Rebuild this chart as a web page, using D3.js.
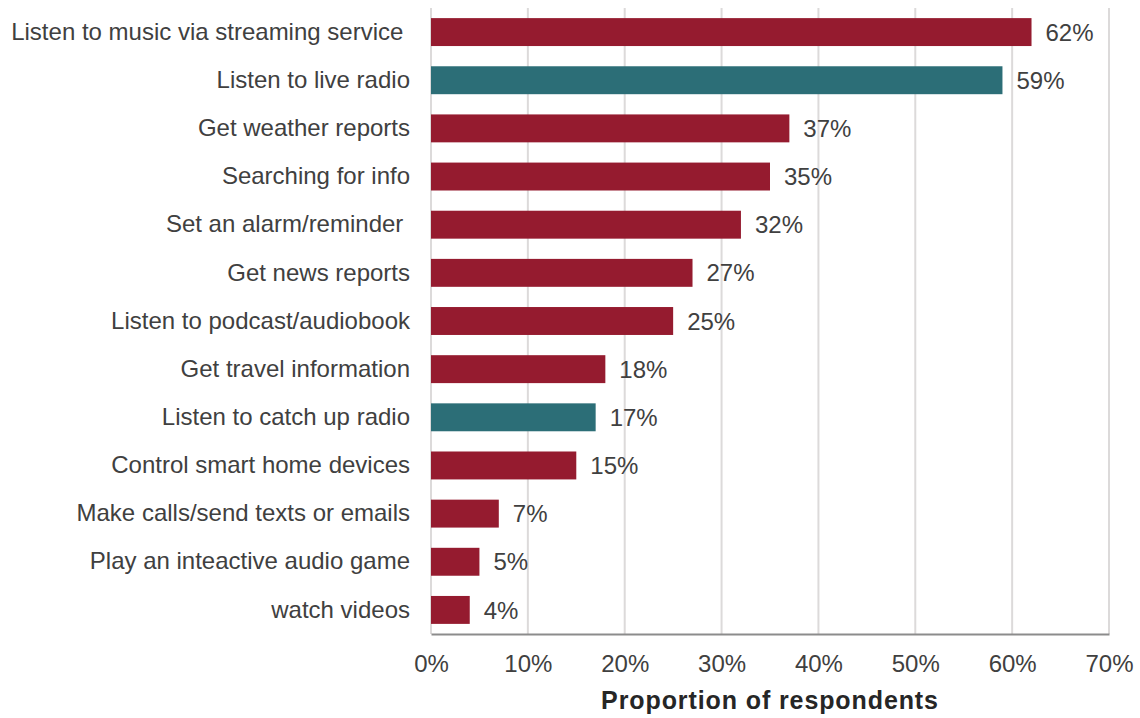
<!DOCTYPE html>
<html>
<head>
<meta charset="utf-8">
<script src="https://cdn.jsdelivr.net/npm/d3@7"></script>
<style>
  html, body { margin: 0; padding: 0; background: #fff; }
  svg { display: block; font-family: "Liberation Sans", Arial, sans-serif; }
  svg text { white-space: pre; }
</style>
</head>
<body>
<svg id="chart" width="1140" height="718"></svg>
<script>
// Smart speaker activities, share of respondents (%)
const activities = [
  "Listen to music via streaming service ",
  "Listen to live radio",
  "Get weather reports",
  "Searching for info",
  "Set an alarm/reminder ",
  "Get news reports",
  "Listen to podcast/audiobook",
  "Get travel information",
  "Listen to catch up radio",
  "Control smart home devices",
  "Make calls/send texts or emails",
  "Play an inteactive audio game",
  "watch videos"
];
const shares = [62, 59, 37, 35, 32, 27, 25, 18, 17, 15, 7, 5, 4];
// radio-related activities are highlighted
const highlighted = [false, true, false, false, false, false, false, false, true, false, false, false, false];
const xTicks = [0, 10, 20, 30, 40, 50, 60, 70];
const xTitle = "Proportion of respondents";

const svg = d3.select("#chart");
const margin = { left: 431, right: 31, top: 8, bottom: 84 };
const W = 1140, H = 718;
const FONT = "Liberation Sans, Arial, sans-serif";

const x = d3.scaleLinear().domain([0, 70]).range([margin.left, W - margin.right]);
const y = d3.scaleBand().domain(activities).range([margin.top, H - margin.bottom]).paddingInner(0.42).paddingOuter(0.21);

// vertical gridlines
svg.append("g").selectAll("line").data(xTicks).join("line")
  .attr("x1", d => x(d)).attr("x2", d => x(d))
  .attr("y1", margin.top).attr("y2", H - margin.bottom)
  .attr("stroke", "#dcdada").attr("stroke-width", 2);

// bars
svg.append("g").selectAll("rect").data(activities).join("rect")
  .attr("x", x(0))
  .attr("y", d => y(d))
  .attr("width", (d, i) => x(shares[i]) - x(0))
  .attr("height", y.bandwidth())
  .attr("fill", (d, i) => highlighted[i] ? "#2c6e77" : "#951b2f");

// value labels
svg.append("g").selectAll("text").data(activities).join("text")
  .attr("x", (d, i) => x(shares[i]) + 14)
  .attr("y", d => y(d) + y.bandwidth() / 2)
  .attr("dy", "0.36em")
  .attr("font-size", 24)
  .attr("fill", "#404040")
  .text((d, i) => shares[i] + "%");

// category axis
const yAxis = d3.axisLeft(y).tickSize(0).tickPadding(21);
const gy = svg.append("g").attr("transform", `translate(${x(0)},0)`).call(yAxis);
gy.select(".domain").remove();
gy.selectAll("text").attr("font-size", 24).attr("fill", "#404040").attr("font-family", FONT);

// value axis
const xAxis = d3.axisBottom(x).tickValues(xTicks).tickSize(0).tickPadding(21).tickFormat(d => d + "%");
const gx = svg.append("g").attr("transform", `translate(0,${H - margin.bottom})`).call(xAxis);
gx.select(".domain").attr("stroke", "#8c8c8c").attr("stroke-width", 2);
gx.selectAll("text").attr("font-size", 24).attr("fill", "#404040").attr("font-family", FONT);

// axis title
svg.append("text")
  .attr("x", (x(0) + x(70)) / 2)
  .attr("y", 709)
  .attr("text-anchor", "middle")
  .attr("font-size", 25)
  .attr("letter-spacing", 0.9)
  .attr("font-weight", "bold")
  .attr("fill", "#262626")
  .text(xTitle);
</script>
</body>
</html>
